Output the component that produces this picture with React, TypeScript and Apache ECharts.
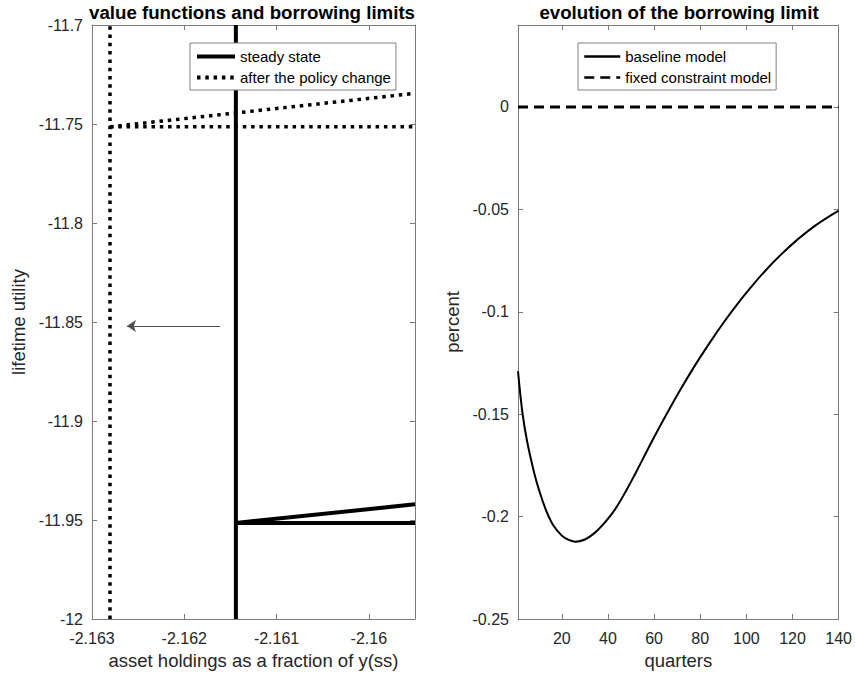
import React, { useEffect, useRef } from "react";
import * as echarts from "echarts";

// ---- left panel data (asset holdings vs lifetime utility) ----
const ssBorrowingLimit = -2.161441;
const newBorrowingLimit = -2.162805;
const ssVertical = [[ssBorrowingLimit, -12], [ssBorrowingLimit, -11.7]];
const ssFlat = [[ssBorrowingLimit, -11.9515], [-2.1595, -11.9515]];
const ssRising = [[ssBorrowingLimit, -11.9515], [-2.1595, -11.9421]];
const pcVertical = [[newBorrowingLimit, -12], [newBorrowingLimit, -11.7]];
const pcFlat = [[newBorrowingLimit, -11.7514], [-2.1595, -11.7514]];
const pcRising = [[newBorrowingLimit, -11.7514], [-2.1595, -11.7345]];
const arrowFrom = [-2.161614, -11.852];
const arrowTo = [-2.162621, -11.852];

// ---- right panel data (evolution of the borrowing limit) ----
const quarters = [1, 3, 5, 8, 10, 13, 16, 20, 23, 26, 30, 34, 38, 43, 48, 52, 57, 62, 67, 72, 78, 84, 90, 96, 102, 108, 115, 122, 130, 140];
const baseline = [-0.129, -0.15, -0.1636, -0.1786, -0.1866, -0.1965, -0.2037, -0.2093, -0.2114, -0.2123, -0.2112, -0.2082, -0.2037, -0.1966, -0.1871, -0.1787, -0.1677, -0.157, -0.1467, -0.1369, -0.1257, -0.1153, -0.1055, -0.0964, -0.088, -0.0802, -0.0721, -0.0649, -0.0578, -0.0506];
const fixedQuarters = [1, 140];
const fixedConstraint = [0, 0];
const quarterTicks = [20, 40, 60, 80, 100, 120, 140];

const FONT = "'Liberation Sans', Arial, Helvetica, sans-serif";
const AXIS_COLOR = "#7a7a7a";
const TEXT_COLOR = "#262626";

function baseAxis(extra: any) {
  return {
    type: "value",
    splitLine: { show: false },
    axisLine: { show: true, onZero: false, lineStyle: { color: AXIS_COLOR, width: 1 } },
    axisTick: { show: true, inside: true, length: 5, lineStyle: { color: AXIS_COLOR } },
    axisLabel: { color: TEXT_COLOR, fontSize: 16, fontFamily: FONT, margin: 11 },
    nameTextStyle: { color: TEXT_COLOR, fontSize: 18.5, fontFamily: FONT },
    ...extra,
  };
}

export default function App() {
  const ref = useRef<HTMLDivElement>(null);
  useEffect(() => {
    document.body.style.margin = "0";
    if (!ref.current) return;
    const chart = echarts.init(ref.current, null, { renderer: "svg" });
    const line = (name: string, data: number[][], style: any, xi = 0, yi = 0, smooth: any = false) => ({
      type: "line",
      name,
      data,
      xAxisIndex: xi,
      yAxisIndex: yi,
      symbol: "none",
      smooth,
      lineStyle: { color: "#000", ...style },
      itemStyle: { color: "#000" },
      z: 3,
    });
    const solidL = { width: 4, type: "solid" };
    const dotL = { width: 3.5, type: [3.5, 4.8] };
    const legendBase = {
      orient: "vertical",
      top: 43,
      itemHeight: 14,
      itemGap: 6,
      padding: [6, 5, 5, 5],
      borderColor: "#808080",
      borderWidth: 1,
      backgroundColor: "#fff",
      textStyle: { fontSize: 15, color: "#000", fontFamily: FONT },
      itemStyle: { opacity: 0 },
      selectedMode: false,
    };
    const option: any = {
      animation: false,
      backgroundColor: "#fff",
      textStyle: { fontFamily: FONT },
      grid: [
        { left: 92, top: 25, width: 323, height: 594 },
        { left: 518, top: 25, width: 322, height: 594 },
      ],
      graphic: [
        {
          type: "text", x: 252, y: 12,
          style: { text: "value functions and borrowing limits", font: `bold 18.7px ${FONT}`, fill: "#000", textAlign: "center", textVerticalAlign: "middle" },
        },
        {
          type: "text", x: 679, y: 12,
          style: { text: "evolution of the borrowing limit", font: `bold 18.7px ${FONT}`, fill: "#000", textAlign: "center", textVerticalAlign: "middle" },
        },
      ],
      legend: [
        { ...legendBase, data: ["steady state", "after the policy change"], left: 190, itemWidth: 38, lineStyle: { width: 4 } },
        { ...legendBase, data: ["baseline model", "fixed constraint model"], left: 578, itemWidth: 36, lineStyle: { width: 2.5 } },
      ],
      xAxis: [
        baseAxis({
          gridIndex: 0, position: "bottom", min: -2.163, max: -2.1595, interval: 0.001,
          name: "asset holdings as a fraction of y(ss)", nameLocation: "middle", nameGap: 28,
          axisLabel: { color: TEXT_COLOR, fontSize: 16, fontFamily: FONT, margin: 11, showMaxLabel: false },
        }),
        baseAxis({
          gridIndex: 0, position: "top", min: -2.163, max: -2.1595, interval: 0.001,
          axisLabel: { show: false },
        }),
        baseAxis({
          gridIndex: 1, position: "bottom", min: 1, max: 140,
          name: "quarters", nameLocation: "middle", nameGap: 28,
          axisTick: { show: true, inside: true, length: 5, lineStyle: { color: AXIS_COLOR }, customValues: quarterTicks },
          axisLabel: { color: TEXT_COLOR, fontSize: 16, fontFamily: FONT, margin: 11, customValues: quarterTicks },
        }),
        baseAxis({
          gridIndex: 1, position: "top", min: 1, max: 140,
          axisTick: { show: true, inside: true, length: 5, lineStyle: { color: AXIS_COLOR }, customValues: quarterTicks },
          axisLabel: { show: false },
        }),
      ],
      yAxis: [
        baseAxis({
          gridIndex: 0, position: "left", min: -12, max: -11.7, interval: 0.05,
          name: "lifetime utility", nameLocation: "middle", nameGap: 64,
          axisLabel: { color: TEXT_COLOR, fontSize: 16, fontFamily: FONT, margin: 9 },
        }),
        baseAxis({
          gridIndex: 0, position: "right", min: -12, max: -11.7, interval: 0.05,
          axisLabel: { show: false },
        }),
        baseAxis({
          gridIndex: 1, position: "left", min: -0.25, max: 0.04, interval: 0.05,
          name: "percent", nameLocation: "middle", nameGap: 56,
          axisLabel: { color: TEXT_COLOR, fontSize: 16, fontFamily: FONT, margin: 9, showMaxLabel: false },
        }),
        baseAxis({
          gridIndex: 1, position: "right", min: -0.25, max: 0.04, interval: 0.05,
          axisLabel: { show: false },
        }),
      ],
      series: [
        line("steady state", ssVertical, solidL),
        line("steady state", ssFlat, solidL),
        line("steady state", ssRising, solidL),
        line("after the policy change", pcVertical, dotL),
        line("after the policy change", pcFlat, dotL),
        line("after the policy change", pcRising, dotL),
        {
          type: "lines",
          coordinateSystem: "cartesian2d",
          xAxisIndex: 0,
          yAxisIndex: 0,
          symbol: ["none", "arrow"],
          symbolSize: 9,
          lineStyle: { color: "#4d4d4d", width: 1, opacity: 1, curveness: 0 },
          data: [{ coords: [arrowFrom, arrowTo] }],
          z: 3,
        },
        line("baseline model", quarters.map((q, i) => [q, baseline[i]]), { width: 2, type: "solid" }, 2, 2, 0.4),
        line("fixed constraint model", fixedQuarters.map((q, i) => [q, fixedConstraint[i]]), { width: 3, type: [10, 6] }, 2, 2),
      ],
    };
    chart.setOption(option);
    return () => chart.dispose();
  }, []);
  return <div ref={ref} style={{ width: 855, height: 680 }} />;
}
